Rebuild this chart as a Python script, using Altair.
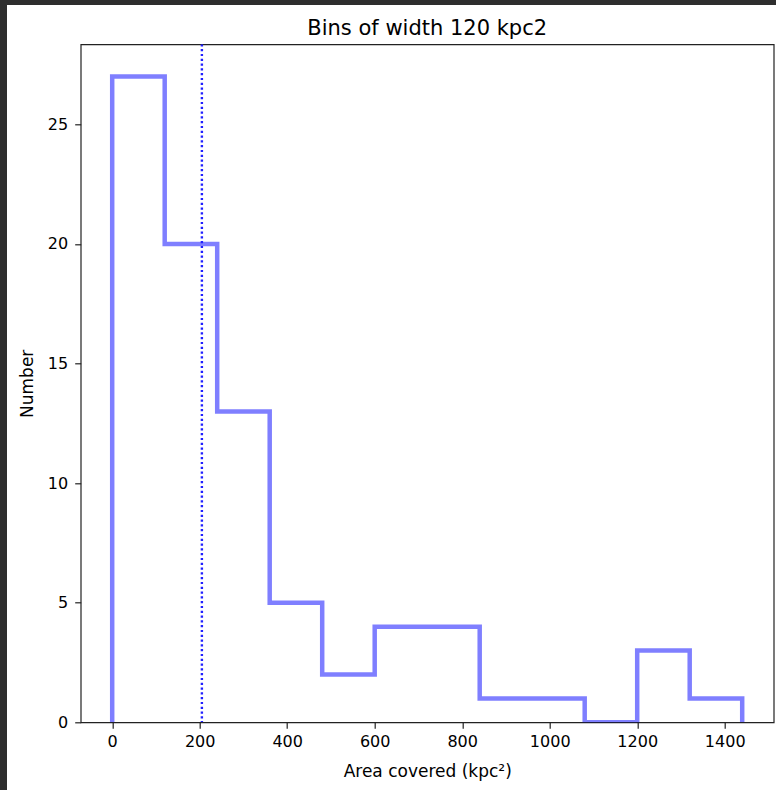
import altair as alt
import pandas as pd

# Histogram (step outline), bins of width 120
bin_edges = [0, 120, 240, 360, 480, 600, 720, 840, 960, 1080, 1200, 1320, 1440]
counts = [27, 20, 13, 5, 2, 4, 4, 1, 1, 0, 3, 1]
mean_value = 205
x_ticks = [0, 200, 400, 600, 800, 1000, 1200, 1400]
y_ticks = [0, 5, 10, 15, 20, 25]
title_text = "Bins of width 120 kpc2"

# build step path from edges & counts
pts = [(bin_edges[0], 0)]
for i, c in enumerate(counts):
    pts.append((bin_edges[i], c))
    pts.append((bin_edges[i + 1], c))
pts.append((bin_edges[-1], 0))
step_df = pd.DataFrame({"x": [p[0] for p in pts], "y": [p[1] for p in pts],
                        "o": list(range(len(pts)))})

W, H = 693, 678
L, T = 80.7, 44.3
TOTAL_W, TOTAL_H = 776, 790
FONT = "DejaVu Sans"

xscale = alt.Scale(domain=[-72, 1512], nice=False, zero=False)
yscale = alt.Scale(domain=[0, 28.35], nice=False, zero=False)

step = alt.Chart(step_df).mark_line(
    color="#0000ff", opacity=0.5, strokeWidth=4.5, clip=True, strokeJoin="miter"
).encode(
    x=alt.X("x:Q", scale=xscale,
            axis=alt.Axis(title="Area covered (kpc²)", values=x_ticks, format="d",
                          grid=False, domain=False, tickSize=6, tickColor="#222",
                          tickWidth=1.2, labelFont=FONT, labelFontSize=16,
                          labelColor="#000", labelPadding=5, labelFlush=False,
                          titleFont=FONT, titleFontSize=17, titleFontWeight="normal",
                          titleColor="#000", titlePadding=14)),
    y=alt.Y("y:Q", scale=yscale,
            axis=alt.Axis(title="Number", values=y_ticks, format="d", grid=False,
                          domain=False, tickSize=6, tickColor="#222", tickWidth=1.2,
                          labelFont=FONT, labelFontSize=16, labelColor="#000",
                          labelPadding=7, labelFlush=False,
                          titleFont=FONT, titleFontSize=17, titleFontWeight="normal",
                          titleColor="#000", titlePadding=11)),
    order="o:Q",
)

mean_rule = alt.Chart(pd.DataFrame({"m": [mean_value]})).mark_rule(
    color="#2020ff", strokeWidth=2.4, strokeDash=[2.2, 2.6], clip=True
).encode(x=alt.X("m:Q", scale=xscale))

title = alt.Chart(alt.Data(values=[{"t": title_text}])).mark_text(
    font=FONT, fontSize=21, color="#000", align="center", baseline="middle"
).encode(text="t:N", x=alt.value(W / 2), y=alt.value(28.5 - T))

dark = alt.Chart(alt.Data(values=[{"a": 1}])).mark_rect(color="#2e2e2e")
left_strip = dark.encode(x=alt.value(-L), x2=alt.value(-L + 7),
                         y=alt.value(-T), y2=alt.value(TOTAL_H - T))
top_strip = dark.encode(x=alt.value(-L), x2=alt.value(TOTAL_W - L),
                        y=alt.value(-T), y2=alt.value(-T + 5))

chart = alt.layer(step, mean_rule, title, left_strip, top_strip).properties(
    width=W, height=H,
    autosize=alt.AutoSizeParams(type="none"),
    padding={"left": L, "top": T, "right": TOTAL_W - L - W, "bottom": TOTAL_H - T - H},
    background="white",
).configure_view(stroke="#222", strokeWidth=1.2)

chart.save("out.html", embed_options={"renderer": "svg", "actions": False})
